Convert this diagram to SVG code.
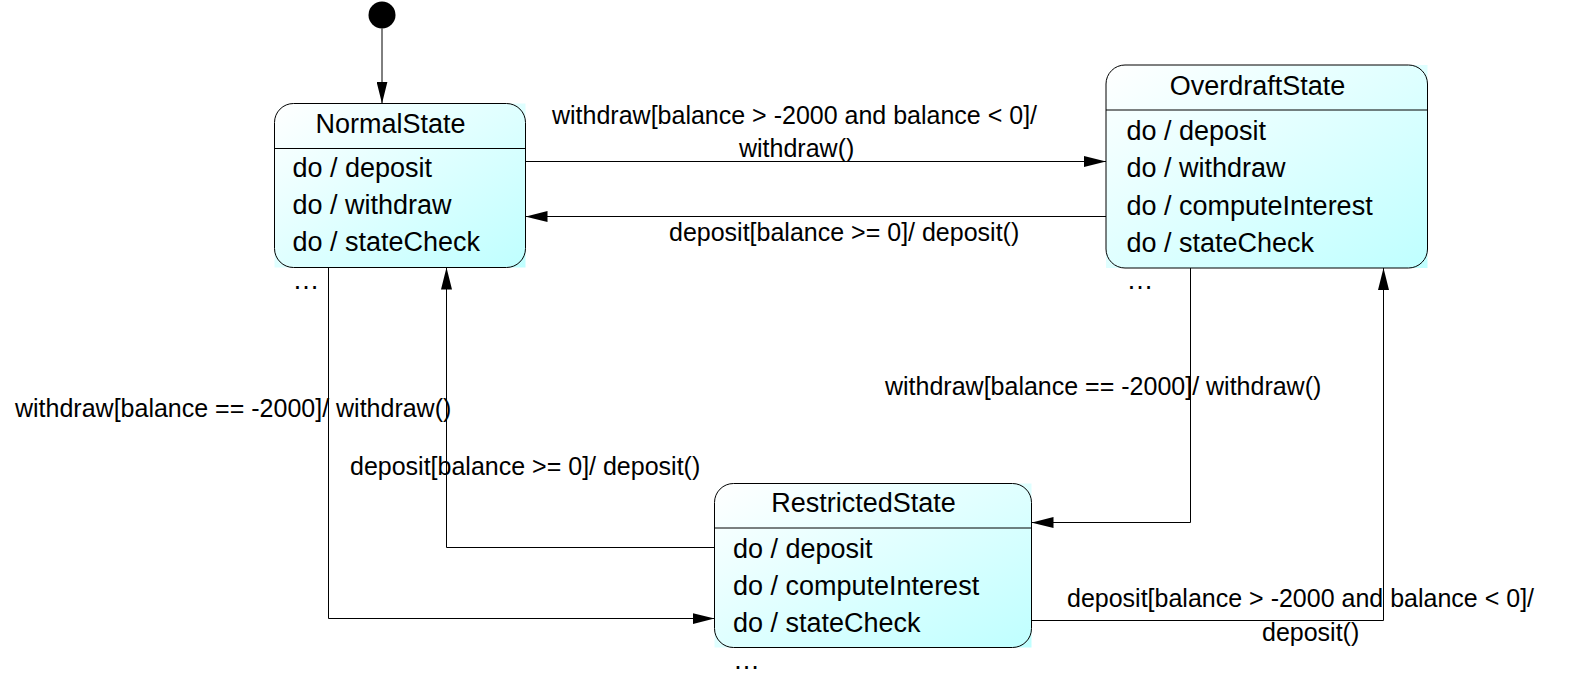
<svg xmlns="http://www.w3.org/2000/svg" width="1594" height="690" viewBox="0 0 1594 690">
<style>
.fill{stroke:none}
.frame{fill:none;stroke:#000;stroke-width:1}
.div{stroke:#000;stroke-width:1}
.nt{font-family:"Liberation Sans",Arial,sans-serif;font-size:27px;fill:#000}
.lb{font-family:"Liberation Sans",Arial,sans-serif;font-size:25px;fill:#000}
.edge{fill:none;stroke:#000;stroke-width:1}
</style>
<defs>
<linearGradient id="g" x1="0" y1="0" x2="1" y2="1">
<stop offset="0" stop-color="#ffffff"/>
<stop offset="1" stop-color="#bfffff"/>
</linearGradient>
<marker id="arr" markerUnits="userSpaceOnUse" markerWidth="22" markerHeight="11" refX="22" refY="5.5" orient="auto" viewBox="0 0 22 11">
<path d="M0,0 L22,5.5 L0,11 z" fill="#000"/>
</marker>
</defs>
<rect width="1594" height="690" fill="#fff"/>

<g id="initial">
<circle cx="382" cy="15" r="13.5" fill="#000"/>
</g>

<g id="NormalState">
<rect class="fill" x="274.5" y="103.5" width="251" height="164" fill="url(#g)"/>
<rect class="frame" x="274.5" y="103.5" width="251" height="164" rx="19" ry="19"/>
<line class="div" x1="274.5" y1="148.5" x2="525.5" y2="148.5"/>
<text class="nt" x="390.5" y="132.5" text-anchor="middle">NormalState</text>
<text class="nt" x="292.5" y="177">do / deposit</text>
<text class="nt" x="292.5" y="214">do / withdraw</text>
<text class="nt" x="292.5" y="251">do / stateCheck</text>
<text class="nt" x="292.5" y="289">…</text>
</g>

<g id="OverdraftState">
<rect class="fill" x="1106" y="65" width="321.5" height="203" fill="url(#g)"/>
<rect class="frame" x="1106" y="65" width="321.5" height="203" rx="19" ry="19"/>
<line class="div" x1="1106" y1="110" x2="1427.5" y2="110"/>
<text class="nt" x="1257.5" y="95" text-anchor="middle">OverdraftState</text>
<text class="nt" x="1126.5" y="139.5">do / deposit</text>
<text class="nt" x="1126.5" y="177">do / withdraw</text>
<text class="nt" x="1126.5" y="214.5">do / computeInterest</text>
<text class="nt" x="1126.5" y="252">do / stateCheck</text>
<text class="nt" x="1126.5" y="289">…</text>
</g>

<g id="RestrictedState">
<rect class="fill" x="714.5" y="483.5" width="317" height="164" fill="url(#g)"/>
<rect class="frame" x="714.5" y="483.5" width="317" height="164" rx="19" ry="19"/>
<line class="div" x1="714.5" y1="528" x2="1031.5" y2="528"/>
<text class="nt" x="863.5" y="512" text-anchor="middle">RestrictedState</text>
<text class="nt" x="733" y="557.5">do / deposit</text>
<text class="nt" x="733" y="594.5">do / computeInterest</text>
<text class="nt" x="733" y="632">do / stateCheck</text>
<text class="nt" x="733" y="669">…</text>
</g>

<g id="connectors">
<path class="edge" d="M382,28.5 L382,103.5" marker-end="url(#arr)"/>
<path class="edge" d="M525.5,161.5 L1106,161.5" marker-end="url(#arr)"/>
<path class="edge" d="M1106,216.5 L525.5,216.5" marker-end="url(#arr)"/>
<path class="edge" d="M328.5,267.5 L328.5,618.5 L714.5,618.5" marker-end="url(#arr)"/>
<path class="edge" d="M714.5,547.5 L446.5,547.5 L446.5,267.5" marker-end="url(#arr)"/>
<path class="edge" d="M1190.5,268 L1190.5,522.5 L1031.5,522.5" marker-end="url(#arr)"/>
<path class="edge" d="M1031.5,620.5 L1383.5,620.5 L1383.5,268" marker-end="url(#arr)"/>
</g>

<g id="labels">
<text class="lb" x="552" y="124">withdraw[balance &gt; -2000 and balance &lt; 0]/</text>
<text class="lb" x="739" y="157">withdraw()</text>
<text class="lb" x="669" y="241">deposit[balance &gt;= 0]/ deposit()</text>
<text class="lb" x="15" y="417">withdraw[balance == -2000]/ withdraw()</text>
<text class="lb" x="350" y="475">deposit[balance &gt;= 0]/ deposit()</text>
<text class="lb" x="885" y="395">withdraw[balance == -2000]/ withdraw()</text>
<text class="lb" x="1067" y="607">deposit[balance &gt; -2000 and balance &lt; 0]/</text>
<text class="lb" x="1262" y="641">deposit()</text>
</g>
</svg>
